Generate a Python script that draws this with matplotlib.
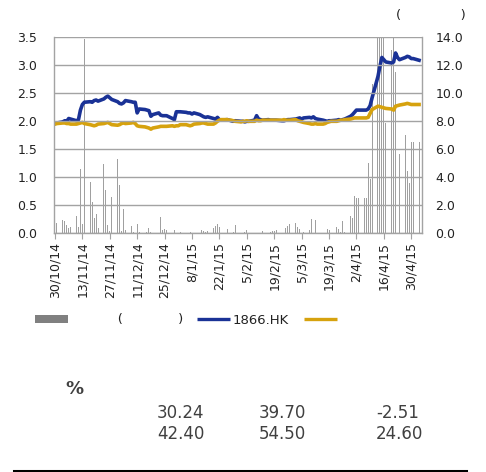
import numpy as np
import pandas as pd
import matplotlib
matplotlib.use('Agg')
import matplotlib.pyplot as plt
from matplotlib.patches import Patch
from matplotlib.lines import Line2D

# trading days 30/10/14 - 4/5/15 (holidays carry previous value)
trade_dates = pd.bdate_range('2014-10-30', '2015-05-04')

# 1866.HK close (HK$, left axis)
price_1866 = [
    1.96, 1.97,
    1.99, 2.01, 2.00, 2.05, 2.04,
    2.01, 2.03, 2.20, 2.30, 2.34,
    2.35, 2.34, 2.37, 2.38, 2.36,
    2.40, 2.43, 2.45, 2.42, 2.39,
    2.35, 2.32, 2.31, 2.33, 2.37,
    2.35, 2.34, 2.34, 2.15, 2.22,
    2.21, 2.20, 2.19, 2.09, 2.12,
    2.15, 2.11, 2.10, 2.10, 2.10,
    2.05, 2.03, 2.17, 2.17, 2.17,
    2.16, 2.15, 2.15, 2.13, 2.15,
    2.12, 2.10, 2.08, 2.07, 2.08,
    2.05, 2.04, 2.07, 2.03, 2.02,
    2.03, 2.02, 2.01, 2.00, 2.01,
    2.00, 2.00, 1.99, 2.00, 2.00,
    2.02, 2.10, 2.04, 2.03, 2.02,
    2.03, 2.02, 2.02, 2.02, 2.02,
    2.01, 2.01, 2.02, 2.03, 2.03,
    2.04, 2.05, 2.06, 2.04, 2.06,
    2.07, 2.06, 2.08, 2.05, 2.04,
    2.02, 2.01, 2.00, 2.01, 2.01,
    2.02, 2.03, 2.02, 2.03, 2.04,
    2.09, 2.12, 2.16, 2.20, 2.20,
    2.20, 2.20, 2.22, 2.28, 2.42,
    2.80, 2.98, 3.14, 3.10, 3.06,
    3.04, 3.06, 3.22, 3.14, 3.10,
    3.14, 3.16, 3.15, 3.12, 3.12,
    3.09,
]

# index rebased to the stock price (left axis)
index_rebased = [
    1.95, 1.96,
    1.97, 1.97, 1.96, 1.96, 1.95,
    1.95, 1.96, 1.97, 1.98, 1.96,
    1.94, 1.93, 1.92, 1.93, 1.95,
    1.96, 1.97, 1.98, 1.96, 1.94,
    1.93, 1.94, 1.96, 1.97, 1.96,
    1.97, 1.98, 1.96, 1.92, 1.91,
    1.90, 1.89, 1.88, 1.86, 1.88,
    1.90, 1.91, 1.91, 1.91, 1.91,
    1.92, 1.91, 1.92, 1.92, 1.94,
    1.94, 1.93, 1.92, 1.93, 1.95,
    1.96, 1.97, 1.97, 1.96, 1.95,
    1.95, 1.97, 2.00, 2.02, 2.03,
    2.03, 2.02, 2.02, 2.01, 2.00,
    1.99, 2.00, 2.00, 2.01, 2.00,
    2.00, 2.02, 2.01, 2.01, 2.02,
    2.02, 2.02, 2.02, 2.02, 2.02,
    2.02, 2.03, 2.02, 2.02, 2.02,
    2.03, 2.01, 2.00, 1.99, 1.98,
    1.96, 1.95, 1.95, 1.96, 1.95,
    1.95, 1.96, 1.98, 1.99, 2.00,
    2.00, 2.01, 2.02, 2.02, 2.03,
    2.04, 2.05, 2.06, 2.06, 2.06,
    2.06, 2.06, 2.07, 2.14, 2.21,
    2.27, 2.26, 2.25, 2.24, 2.23,
    2.22, 2.20, 2.27, 2.28, 2.29,
    2.31, 2.32, 2.31, 2.30, 2.30,
    2.30,
]

# turnover (right axis), bars above 14 are cut off by the axis
volume = [
    0.50, 0.75,
    0.95, 0.88, 0.60, 0.36, 0.43,
    1.24, 0.48, 4.57, 0.67, 13.9,
    3.70, 2.26, 1.10, 1.40, 0.36,
    4.98, 3.10, 0.60, 0.20, 2.57,
    5.33, 3.45, 0.19, 1.74, 0.24,
    0.52, 0.12, 0.05, 0.67, 0.10,
    0.05, 0.08, 0.35, 0.10, 0.05,
    0.05, 1.15, 0.24, 0.30, 0.24,
    0.05, 0.24, 0.05, 0.05, 0.08,
    0.05, 0.05, 0.08, 1.10, 0.05,
    0.05, 0.24, 0.15, 0.12, 0.20,
    0.35, 0.55, 0.70, 0.48, 0.05,
    0.28, 0.05, 0.05, 0.10, 0.59,
    0.05, 0.05, 0.08, 0.24, 0.05,
    0.05, 0.05, 0.05, 0.05, 0.13,
    0.05, 0.08, 0.20, 0.20, 0.24,
    0.05, 0.28, 0.35, 0.55, 0.68,
    0.73, 0.46, 0.28, 0.05, 0.10,
    0.24, 1.00, 0.05, 0.95, 0.05,
    0.05, 0.05, 0.30, 0.24, 0.05,
    0.43, 0.30, 0.10, 0.88, 0.10,
    1.26, 1.07, 2.67, 2.50, 2.50,
    2.50, 2.50, 5.00, 3.86, 10.7,
    15.0, 15.0, 15.0, 15.0, 7.86,
    13.1, 15.0, 11.5, 0.05, 5.66,
    7.00, 4.47, 3.57, 6.54, 6.54,
    6.54,
]

tick_labels = ['30/10/14', '13/11/14', '27/11/14', '11/12/14', '25/12/14',
               '8/1/15', '22/1/15', '5/2/15', '19/2/15', '5/3/15', '19/3/15',
               '2/4/15', '16/4/15', '30/4/15']
tick_dates = pd.to_datetime(tick_labels, format='%d/%m/%y')

perf_row1 = ['30.24', '39.70', '-2.51']
perf_row2 = ['42.40', '54.50', '24.60']

blue = '#1a3296'
gold = '#d6a20e'
grid_c = '#a3a3a3'
W, H = 486, 472

fig = plt.figure(figsize=(W / 100, H / 100), dpi=100)
ax = fig.add_axes([54 / W, 1 - 233.3 / H, 368 / W, 196 / H])
axv = ax.twinx()
ax.set_zorder(axv.get_zorder() + 1)
ax.patch.set_visible(False)

axv.bar(trade_dates, volume, width=0.5, color='#a0a0a0', linewidth=0)
axv.set_ylim(0, 14)
axv.set_yticks(np.arange(0, 14.1, 2))
axv.set_yticklabels(['%.1f' % v for v in np.arange(0, 14.1, 2)])
axv.tick_params(axis='y', length=0, pad=9.5, labelsize=9, colors='#222222')
for s in axv.spines.values():
    s.set_visible(False)

ax.plot(trade_dates, price_1866, color=blue, lw=2.6, solid_joinstyle='round')
ax.plot(trade_dates, index_rebased, color=gold, lw=2.6, solid_joinstyle='round')
ax.set_ylim(0, 3.5)
ax.set_yticks(np.arange(0, 3.51, 0.5))
ax.set_yticklabels(['%.1f' % v for v in np.arange(0, 3.51, 0.5)])
ax.tick_params(axis='y', length=0, pad=12, labelsize=9, colors='#222222')
ax.yaxis.grid(True, color=grid_c, lw=1.0)
ax.set_axisbelow(False)

ax.set_xlim(pd.Timestamp('2014-10-29 12:00'), pd.Timestamp('2015-05-05 12:00'))
ax.set_xticks(tick_dates)
ax.set_xticklabels(tick_labels, rotation=90)
ax.tick_params(axis='x', length=4, color=grid_c, pad=2, labelsize=9,
               labelcolor='#222222')
ax.spines['top'].set_visible(False)
for side in ['left', 'right', 'bottom']:
    ax.spines[side].set_color(grid_c)
    ax.spines[side].set_linewidth(1.0)

fig.text(431 / W, 1 - 16 / H, '(' + ' ' * 14 + ')', ha='center', va='center',
         fontsize=9.5, color='#222222')

handles = [Patch(facecolor='#808080', edgecolor='none'),
           Line2D([], [], color=blue, lw=2.4, solid_capstyle='butt'),
           Line2D([], [], color=gold, lw=2.4, solid_capstyle='butt')]
labels = [' ' * 11 + '(' + ' ' * 13 + ')', '1866.HK', '    ']
fig.legend(handles, labels, loc='center left', bbox_to_anchor=(35 / W, 1 - 320 / H),
           ncol=3, frameon=False, fontsize=9.5, handlelength=2.5,
           handleheight=0.55, handletextpad=0.2, columnspacing=1.1,
           borderpad=0, borderaxespad=0, labelcolor='#222222')

# performance table under the chart
fig.text(65 / W, 1 - 389 / H, '%', fontsize=13, fontweight='bold',
         color='#404040', va='center')
for row_y, row in [(413, perf_row1), (434, perf_row2)]:
    for col_x, val in zip([157, 259, 376], row):
        fig.text(col_x / W, 1 - row_y / H, val, fontsize=12,
                 color='#404040', va='center', ha='left')

fig.add_artist(Line2D([14 / W, 466 / W], [1 - 470.5 / H] * 2, color='black', lw=2.2))

fig.savefig('out.png', dpi=100)
